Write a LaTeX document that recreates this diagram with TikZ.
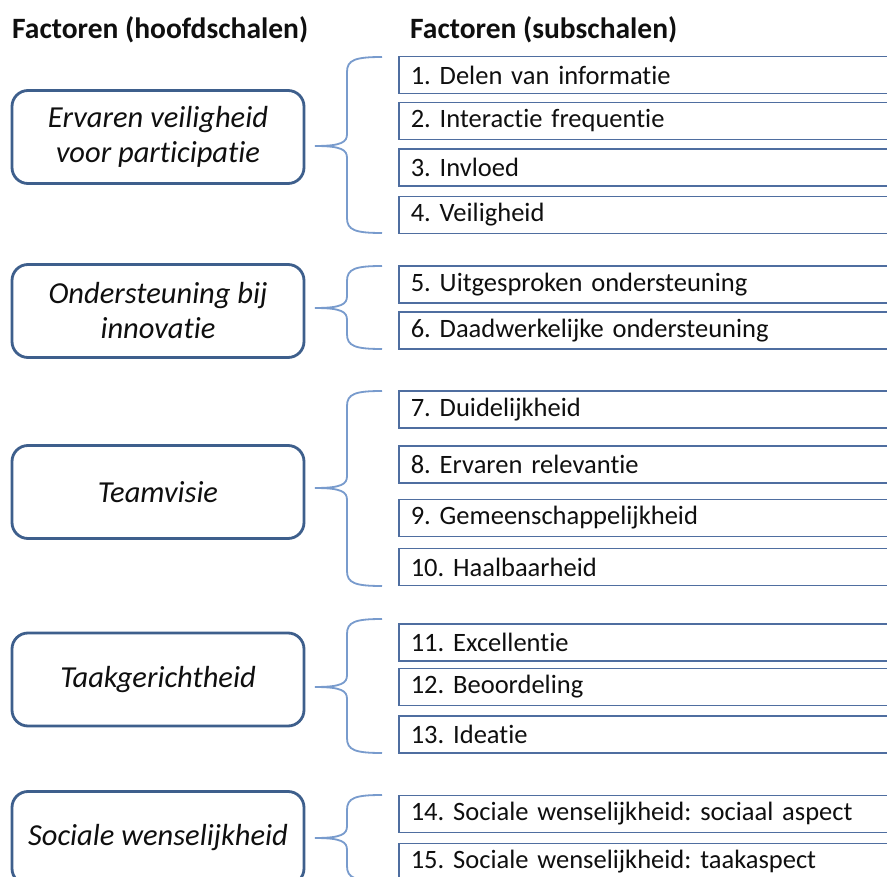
\documentclass[tikz,border=0pt]{standalone}
\usepackage{fontspec}
\setmainfont{Carlito}[Ligatures=NoCommon]
\frenchspacing
\definecolor{lboxc}{RGB}{62,95,140}
\definecolor{rboxc}{RGB}{79,110,160}
\definecolor{bracec}{RGB}{120,155,205}
\definecolor{txtc}{RGB}{15,15,15}
\newcommand\mysubfont{\fontsize{26.5}{30}\selectfont\spaceskip=0.17em\relax}
\newcommand\mybrace[4]{%
  \coordinate (#1t) at (382,#2);
  \coordinate (#1m) at (315,#3);
  \coordinate (#1b) at (382,#4);
  \draw[bracestyle] (#1t) .. controls (355,#2) and (347,#2+3) .. (347,#2+15)
    -- (347,#3-12) .. controls (347,#3-4) and (342,#3) .. (#1m)
    .. controls (342,#3) and (347,#3+4) .. (347,#3+12)
    -- (347,#4-15) .. controls (347,#4-3) and (355,#4) .. (#1b);
}
\begin{document}
\begin{tikzpicture}[x=1pt,y=-1pt,
  hdr/.style={anchor=west,inner sep=0pt,text=txtc,font=\fontsize{29.5}{34}\selectfont\bfseries},
  mainbox/.style={draw=lboxc,line width=2.8pt,rounded corners=16pt,minimum width=292pt,minimum height=93pt,align=center,text=txtc,font=\fontsize{30.5}{35}\selectfont\itshape,inner sep=0pt},
  subbox/.style={draw=rboxc,line width=1.6pt,anchor=west,minimum height=37pt,text width=530pt,inner xsep=12pt,inner ysep=0pt,align=left,text=txtc,font=\mysubfont},
  bracestyle/.style={draw=bracec,line width=1.8pt}]
\clip (0,0) rectangle (887,877);
\fill[white] (0,0) rectangle (887,877);
\node[hdr] (h1) at (12,30) {Factoren (hoofdschalen)};
\node[hdr] (h2) at (410,30) {Factoren (subschalen)};
% main boxes
\node[mainbox] (m1) at (158,137) {Ervaren veiligheid\\voor participatie};
\node[mainbox] (m2) at (158,311) {Ondersteuning bij\\innovatie};
\node[mainbox] (m3) at (158,492) {Teamvisie};
\node[mainbox] (m4) at (158,679.5) {Taakgerichtheid};
\node[mainbox] (m5) at (158,838) {Sociale wenselijkheid};
% sub boxes
\node[subbox] (s1) at (398,75) {1. Delen van informatie};
\node[subbox] (s2) at (398,121) {2. Interactie frequentie};
\node[subbox] (s3) at (398,167.5) {3. Invloed};
\node[subbox] (s4) at (398,215) {4. Veiligheid};
\node[subbox] (s5) at (398,284.5) {5. Uitgesproken ondersteuning};
\node[subbox] (s6) at (398,330.5) {6. Daadwerkelijke ondersteuning};
\node[subbox] (s7) at (398,409.5) {7. Duidelijkheid};
\node[subbox] (s8) at (398,464.5) {8. Ervaren relevantie};
\node[subbox] (s9) at (398,518) {9. Gemeenschappelijkheid};
\node[subbox] (s10) at (398,567) {10. Haalbaarheid};
\node[subbox] (s11) at (398,642.5) {11. Excellentie};
\node[subbox] (s12) at (398,687) {12. Beoordeling};
\node[subbox] (s13) at (398,734.5) {13. Ideatie};
\node[subbox] (s14) at (398,814) {14. Sociale wenselijkheid: sociaal aspect};
\node[subbox] (s15) at (398,862) {15. Sociale wenselijkheid: taakaspect};
% braces
\mybrace{b1}{57}{146}{233}
\mybrace{b2}{266}{308}{349}
\mybrace{b3}{391}{488}{586}
\mybrace{b4}{619}{687}{753}
\mybrace{b5}{795}{838}{881}
\end{tikzpicture}
\end{document}
